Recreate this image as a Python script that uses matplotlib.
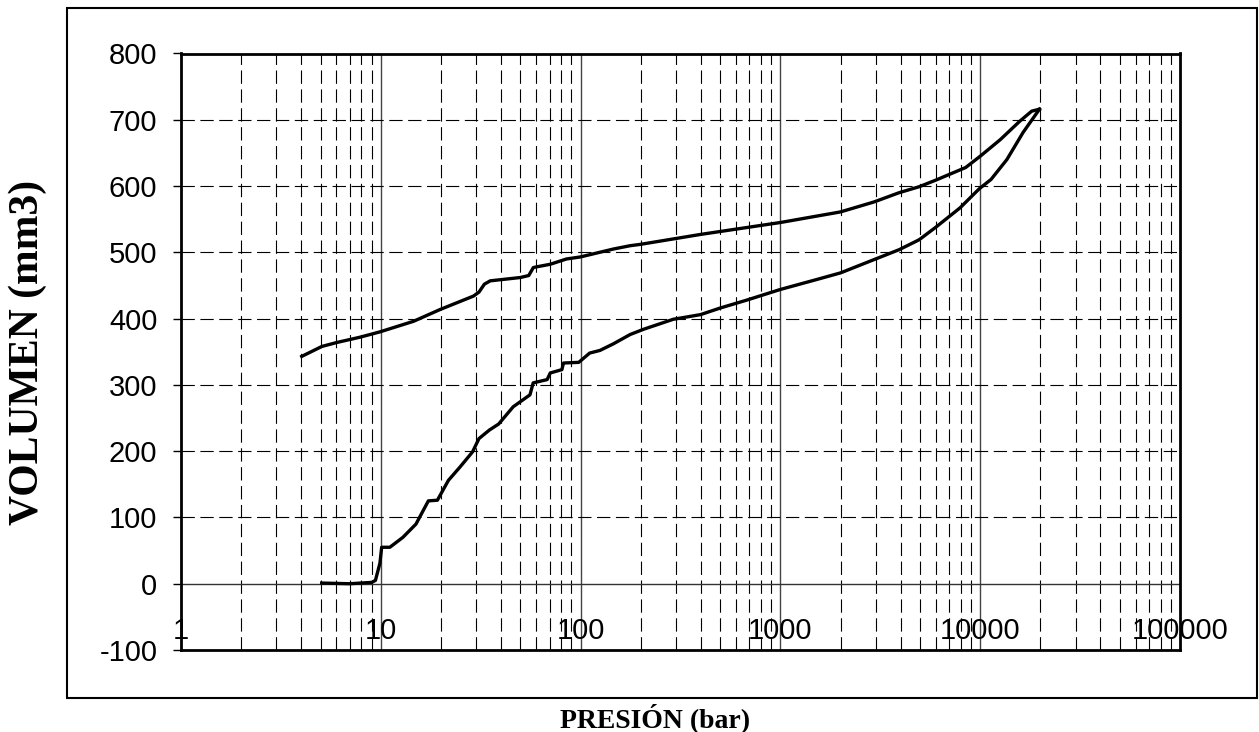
import matplotlib.pyplot as plt
from matplotlib.patches import Rectangle
import numpy as np

plt.rcParams["axes.unicode_minus"] = False

# curva de carga (presión creciente)
p_carga = [5.06, 7, 9.0, 9.4, 9.9, 10.1, 11.1, 12.9, 15.0, 17.3, 19.2, 21.8, 24.9,
           28.8, 31.0, 35, 38.9, 46, 55.8, 57.9, 68, 70.5, 80.6, 82.1, 97.9, 111,
           125, 146, 177, 207, 291, 398, 500, 680, 1000, 1520, 2000, 2940, 3930,
           4950, 6000, 7920, 9900, 11330, 13600, 16400, 19800]
v_carga = [1, 0, 2, 5, 31, 55, 55, 70, 90, 125, 126, 156, 176,
           199, 219, 232, 241, 267, 285, 303, 308, 318, 323, 333, 334, 348,
           352, 362, 376, 384, 399, 406, 416, 428, 444, 459, 469, 489, 504,
           519, 538, 567, 596, 610, 640, 681, 716]

# curva de descarga (presión decreciente)
p_descarga = [19800, 18100, 15800, 12600, 10000, 8460, 6000, 4950, 3930, 2940,
              2000, 1000, 398, 199, 177, 146, 99.6, 85, 70.5, 60, 58, 55, 49.9,
              35.3, 33, 31, 29.1, 19.9, 14.6, 9.9, 7.88, 6.03, 5.07, 4.02]
v_descarga = [716, 713, 698, 670, 645, 628, 609, 599, 590, 576,
              561, 545, 527, 512, 510, 505, 493, 490, 482, 478, 477, 465, 462,
              457, 452, 440, 434, 414, 396, 380, 372, 364, 358, 343]

x_ticks = [1, 10, 100, 1000, 10000, 100000]
x_labels = ["1", "10", "100", "1000", "10000", "100000"]
y_ticks = [-100, 0, 100, 200, 300, 400, 500, 600, 700, 800]

W, H = 1259, 732
fig = plt.figure(figsize=(W / 100, H / 100), dpi=100)
ax = fig.add_axes([181 / W, 1 - 650 / H, (1180 - 181) / W, (650 - 53.5) / H])

ax.set_xscale("log")
ax.set_xlim(1, 100000)
ax.set_ylim(-100, 800)

dash = (0, (12, 5))
# rejilla
minors = [m * 10 ** d for d in range(5) for m in range(2, 10)]
for xm in minors:
    ax.axvline(xm, color="black", lw=0.8, ls=dash, zorder=1)
for xM in [10, 100, 1000, 10000]:
    ax.axvline(xM, color="#444444", lw=1.0, zorder=1)
for yv in range(100, 800, 100):
    ax.axhline(yv, color="black", lw=0.8, ls=dash, zorder=1)
ax.axhline(0, color="#333333", lw=1.0, zorder=2)
ax.axhline(-100, color="black", lw=2.0, zorder=3, clip_on=False)

ax.plot(p_carga, v_carga, color="black", lw=2.4, zorder=4)
ax.plot(p_descarga, v_descarga, color="black", lw=2.4, zorder=4)

# eje x cruzando en y = 0
ax.spines["bottom"].set_position(("data", 0))
ax.spines["bottom"].set_visible(False)
for s in ["left", "right", "top"]:
    ax.spines[s].set_linewidth(2.0)

ax.set_xticks(x_ticks)
ax.set_xticklabels(x_labels)
ax.xaxis.set_minor_locator(plt.NullLocator())
ax.tick_params(axis="x", length=0, pad=24, labelsize=21)
ax.set_yticks(y_ticks)
ax.tick_params(axis="y", length=6, width=1, pad=11, labelsize=21, direction="out")
for lab in ax.get_xticklabels() + ax.get_yticklabels():
    lab.set_fontfamily("Liberation Sans")

fig.text(28 / W, 1 - 352 / H, "VOLUMEN (mm3)", rotation=90, ha="center", va="center",
         fontsize=30, fontweight="bold", fontfamily="Liberation Serif")
fig.text(655 / W, 1 - 718 / H, "PRESIÓN (bar)", ha="center", va="center",
         fontsize=20, fontweight="bold", fontfamily="Liberation Serif")

# marco exterior
fig.patches.append(Rectangle((67 / W, 1 - 698 / H), (1257 - 67) / W, 690 / H,
                             transform=fig.transFigure, fill=False, ec="black", lw=1.5))

fig.savefig("out.png", dpi=100)
